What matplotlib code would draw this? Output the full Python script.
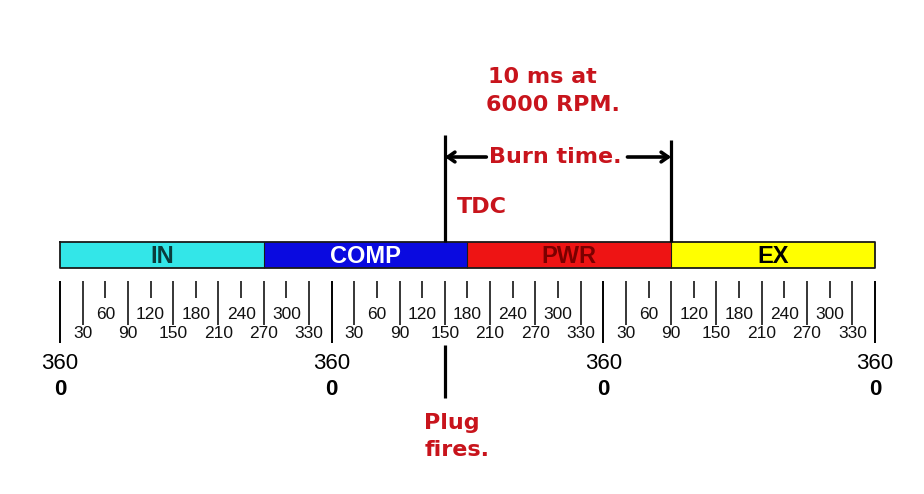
import matplotlib.pyplot as plt

# crank-angle data (degrees along the ruler)
stroke_names = ["IN", "COMP", "PWR", "EX"]
stroke_starts = [0, 270, 540, 810]
stroke_ends = [270, 540, 810, 1080]
stroke_colors = ["#33e6e8", "#0a0ae0", "#ee1414", "#ffff00"]
stroke_text_colors = ["#0b3c3c", "#ffffff", "#7a0000", "#000000"]

cycle_marks = [0, 360, 720, 1080]
cycle_offsets = [0, 360, 720]
lower_angles = [30, 90, 150, 210, 270, 330]
upper_angles = [60, 120, 180, 240, 300]

tdc_angle = 510
burn_end_angle = 810
plug_angle = 510

RED = "#c8141c"
NUM_FONT = "Liberation Sans"
ANN_FONT = "DejaVu Sans"


def main() -> None:
    fig = plt.figure(figsize=(9.24, 4.94), dpi=100)
    ax = fig.add_axes([0, 0, 1, 1])
    ax.set_xlim(-79.5, 1145)
    ax.set_ylim(494, 0)
    ax.axis("off")

    # stroke bar
    for name, x0, x1, color, tcolor in zip(stroke_names, stroke_starts, stroke_ends,
                                           stroke_colors, stroke_text_colors):
        ax.fill_between([x0, x1], 242, 268, facecolor=color, edgecolor="none")
        ax.text((x0 + x1) / 2, 256, name, ha="center", va="center", fontsize=17,
                fontweight="bold", color=tcolor, family=NUM_FONT)
    ax.plot([stroke_starts[0], stroke_ends[-1], stroke_ends[-1], stroke_starts[0], stroke_starts[0]],
            [242, 242, 268, 268, 242], color="#1a1a1a", lw=1.3)
    for x in stroke_starts[1:]:
        ax.vlines(x, 242, 268, color="#1a1a1a", lw=0.8)

    # ruler ticks and labels
    ax.vlines(cycle_marks, 281, 343, color="black", lw=1.4)
    for off in cycle_offsets:
        lower = [off + a for a in lower_angles]
        upper = [off + a for a in upper_angles]
        ax.vlines(lower, 281, 325, color="black", lw=1.1)
        ax.vlines(upper, 281, 298, color="black", lw=1.1)
        for a, x in zip(lower_angles, lower):
            ax.text(x, 333, str(a), ha="center", va="center", fontsize=12.5,
                    family=NUM_FONT, color="#111111")
        for a, x in zip(upper_angles, upper):
            ax.text(x, 314, str(a), ha="center", va="center", fontsize=12.5,
                    family=NUM_FONT, color="#111111")
    for x in cycle_marks:
        ax.text(x, 363, "360", ha="center", va="center", fontsize=16,
                family=NUM_FONT, color="black")
        ax.text(x, 389, "0", ha="center", va="center", fontsize=16,
                fontweight="bold", family=NUM_FONT, color="black")

    # TDC, burn window and spark
    ax.vlines(tdc_angle, 135, 242, color="black", lw=2.3)
    ax.vlines(burn_end_angle, 140, 242, color="black", lw=2.3)
    ax.vlines(plug_angle, 345, 398, color="black", lw=2.3)

    arrow_kw = dict(arrowstyle="->,head_length=0.5,head_width=0.35", color="black", lw=2.6,
                    shrinkA=0, shrinkB=0)
    ax.annotate("", xy=(tdc_angle, 157), xytext=(tdc_angle + 55, 157), arrowprops=arrow_kw)
    ax.annotate("", xy=(burn_end_angle, 157), xytext=(burn_end_angle - 58, 157), arrowprops=arrow_kw)

    ann = dict(color=RED, fontsize=16, fontweight="bold", family=ANN_FONT, va="center")
    ax.text(tdc_angle + 58, 157, "Burn time.", ha="left", **ann)
    ax.text(tdc_angle + 57, 77, "10 ms at", ha="left", **ann)
    ax.text(tdc_angle + 55, 105, "6000 RPM.", ha="left", **ann)
    ax.text(tdc_angle + 16, 207, "TDC", ha="left", **ann)
    ax.text(plug_angle - 27, 423, "Plug", ha="left", **ann)
    ax.text(plug_angle - 27, 450, "fires.", ha="left", **ann)

    fig.savefig("out.png", dpi=100)
    plt.close(fig)


if __name__ == "__main__":
    main()
